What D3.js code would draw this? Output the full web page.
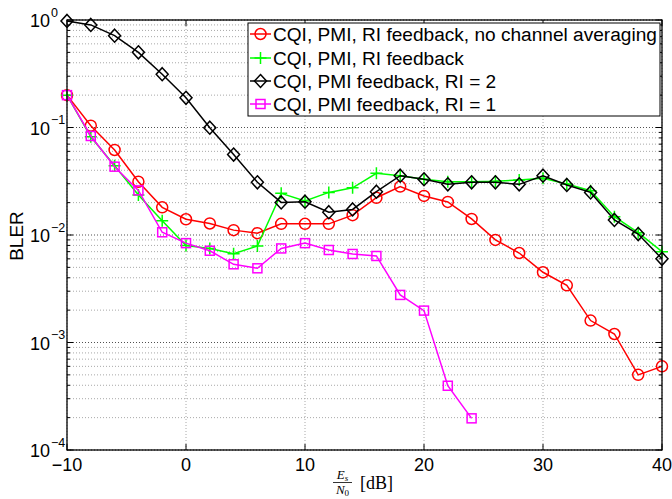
<!DOCTYPE html>
<html><head><meta charset="utf-8">
<script src="https://cdn.jsdelivr.net/npm/d3@7"></script>
<style>body{margin:0;background:#fff}svg{display:block}</style>
</head><body>
<svg id="c" width="672" height="499"></svg>
<script>
const xValues = [-10,-8,-6,-4,-2,0,2,4,6,8,10,12,14,16,18,20,22,24,26,28,30,32,34,36,38,40];
const redVals = [0.2,0.104,0.0618,0.0313,0.0181,0.014,0.0128,0.0111,0.0104,0.0127,0.0127,0.0127,0.0153,0.0222,0.0282,0.0231,0.0203,0.0141,0.009,0.0068,0.0045,0.0034,0.0016,0.0012,0.0005,0.0006];
const greenVals = [0.2,0.082,0.044,0.0236,0.0136,0.008,0.0075,0.0067,0.0079,0.0244,0.0207,0.0249,0.0275,0.0375,0.0356,0.033,0.0313,0.0313,0.0316,0.0325,0.0337,0.0298,0.0258,0.0148,0.0105,0.007];
const blackVals = [0.98,0.90,0.715,0.5,0.313,0.189,0.0996,0.056,0.0309,0.0201,0.0204,0.0163,0.0173,0.0253,0.0356,0.033,0.0296,0.0309,0.0309,0.0296,0.0356,0.0292,0.0249,0.0138,0.0102,0.006];
const magentaVals = [0.2,0.0834,0.0432,0.026,0.0106,0.0084,0.00714,0.00534,0.0049,0.0075,0.0084,0.00725,0.00666,0.00638,0.00277,0.00198,0.000396,0.000197];
const seriesNames = ["CQI, PMI, RI feedback, no channel averaging","CQI, PMI, RI feedback","CQI, PMI feedback, RI = 2","CQI, PMI feedback, RI = 1"];
const xTicks = [-10,0,10,20,30,40];
const xTickLabels = ["\u221210","0","10","20","30","40"];
const yTickExps = [0,-1,-2,-3,-4];

const series = [
  {name: seriesNames[0], vals: redVals, color: "#ff0000", marker: "circle"},
  {name: seriesNames[1], vals: greenVals, color: "#00ff00", marker: "plus"},
  {name: seriesNames[2], vals: blackVals, color: "#000000", marker: "diamond"},
  {name: seriesNames[3], vals: magentaVals, color: "#ff00ff", marker: "square"}
];

const svg = d3.select("#c");
const L = 67, R = 662, T = 20, B = 450;
const x = d3.scaleLinear().domain([-10,40]).range([L,R]);
const y = d3.scaleLog().domain([1e-4,1]).range([B,T]);
const font = "'Liberation Sans', Arial, Helvetica, sans-serif";

svg.append("rect").attr("x",L).attr("y",T).attr("width",R-L).attr("height",B-T).attr("fill","#fff");

// grid
const g = svg.append("g");
const minorY = [];
for (let e=-4;e<0;e++) for (let m=2;m<=9;m++) minorY.push(m*Math.pow(10,e));
g.selectAll(".gmy").data(minorY).join("line")
  .attr("x1",L).attr("x2",R).attr("y1",d=>y(d)).attr("y2",d=>y(d))
  .attr("stroke","#a8a8a8").attr("stroke-width",1).attr("stroke-dasharray","1,2");
g.selectAll(".gMy").data(yTickExps.map(e=>Math.pow(10,e))).join("line")
  .attr("x1",L).attr("x2",R).attr("y1",d=>y(d)).attr("y2",d=>y(d))
  .attr("stroke","#505050").attr("stroke-width",1).attr("stroke-dasharray","1,2");
g.selectAll(".gx").data(xTicks).join("line")
  .attr("x1",d=>x(d)).attr("x2",d=>x(d)).attr("y1",T).attr("y2",B)
  .attr("stroke","#a8a8a8").attr("stroke-width",1).attr("stroke-dasharray","1,2");

// ticks (inward)
const tk = svg.append("g").attr("stroke","#000").attr("stroke-width",1);
xTicks.forEach(v=>{
  tk.append("line").attr("x1",x(v)).attr("x2",x(v)).attr("y1",B).attr("y2",B-6);
  tk.append("line").attr("x1",x(v)).attr("x2",x(v)).attr("y1",T).attr("y2",T+6);
});
yTickExps.forEach(e=>{
  const v=Math.pow(10,e);
  tk.append("line").attr("x1",L).attr("x2",L+6).attr("y1",y(v)).attr("y2",y(v));
  tk.append("line").attr("x1",R).attr("x2",R-6).attr("y1",y(v)).attr("y2",y(v));
});
minorY.forEach(v=>{
  tk.append("line").attr("x1",L).attr("x2",L+3).attr("y1",y(v)).attr("y2",y(v));
  tk.append("line").attr("x1",R).attr("x2",R-3).attr("y1",y(v)).attr("y2",y(v));
});

// series
function drawMarker(sel, type, cx, cy, color){
  if (type==="circle") sel.append("circle").attr("cx",cx).attr("cy",cy).attr("r",5.5).attr("fill","none").attr("stroke",color).attr("stroke-width",1.5);
  else if (type==="square") sel.append("rect").attr("x",cx-4.5).attr("y",cy-4.5).attr("width",9).attr("height",9).attr("fill","none").attr("stroke",color).attr("stroke-width",1.5);
  else if (type==="diamond") sel.append("path").attr("d",`M${cx},${cy-6.5}L${cx+6},${cy}L${cx},${cy+6.5}L${cx-6},${cy}Z`).attr("fill","none").attr("stroke",color).attr("stroke-width",1.5);
  else if (type==="plus") sel.append("path").attr("d",`M${cx-6},${cy}H${cx+6}M${cx},${cy-6}V${cy+6}`).attr("fill","none").attr("stroke",color).attr("stroke-width",1.5);
}
const line = d3.line().x(d=>x(d[0])).y(d=>y(d[1]));
series.forEach(s=>{
  const pts = s.vals.map((v,i)=>[xValues[i],v]);
  const sg = svg.append("g");
  sg.append("path").attr("d",line(pts)).attr("fill","none").attr("stroke",s.color).attr("stroke-width",1.5);
  pts.forEach(p=>drawMarker(sg,s.marker,x(p[0]),y(p[1]),s.color));
});

// frame
svg.append("rect").attr("x",L).attr("y",T).attr("width",R-L).attr("height",B-T).attr("fill","none").attr("stroke","#000").attr("stroke-width",1.3);

// tick labels
svg.append("g").selectAll("text").data(xTicks).join("text")
  .attr("x",(d)=>x(d)).attr("y",471).attr("text-anchor","middle")
  .attr("font-family",font).attr("font-size",18)
  .text((d,i)=>xTickLabels[i]);
yTickExps.forEach(e=>{
  svg.append("text").attr("x",50).attr("y",y(Math.pow(10,e))+7)
    .attr("font-family",font).attr("font-size",18).attr("text-anchor","end").text("10");
  svg.append("text").attr("x",51).attr("y",y(Math.pow(10,e))-3.5)
    .attr("font-family",font).attr("font-size",12.5).attr("text-anchor","start")
    .text(e===0?"0":"\u2212"+Math.abs(e));
});

// y label
svg.append("text").attr("transform","translate(23,236) rotate(-90)")
  .attr("text-anchor","middle").attr("font-family",font).attr("font-size",19).text("BLER");

// x label (fraction)
const serif = "'Liberation Serif', 'Times New Roman', serif";
const xl = svg.append("g");
const num = xl.append("text").attr("x",342.5).attr("y",479).attr("text-anchor","middle").attr("font-family",serif).attr("font-size",13);
num.append("tspan").attr("font-style","italic").text("E");
num.append("tspan").attr("font-style","italic").attr("font-size",9).attr("dy",2).text("s");
xl.append("line").attr("x1",333).attr("x2",352).attr("y1",482.5).attr("y2",482.5).attr("stroke","#000").attr("stroke-width",0.8);
const den = xl.append("text").attr("x",342.5).attr("y",494).attr("text-anchor","middle").attr("font-family",serif).attr("font-size",13);
den.append("tspan").attr("font-style","italic").text("N");
den.append("tspan").attr("font-size",9).attr("dy",2).text("0");
xl.append("text").attr("x",360).attr("y",489).attr("font-family",serif).attr("font-size",18).text("[dB]");

// legend
const lg = svg.append("g");
lg.append("rect").attr("x",248).attr("y",23).attr("width",412).attr("height",93).attr("fill","#fff").attr("stroke","#000").attr("stroke-width",1);
const rowY = [34,58,81,104];
// size legend font so the longest entry spans ~385px like the reference
const probe = lg.append("text").attr("font-family",font).attr("font-size",18).text(seriesNames[0]);
const legFs = Math.min(20, 18*384/probe.node().getComputedTextLength());
probe.remove();
series.forEach((s,i)=>{
  const cy = rowY[i];
  lg.append("line").attr("x1",250).attr("x2",271).attr("y1",cy).attr("y2",cy).attr("stroke",s.color).attr("stroke-width",1.5);
  drawMarker(lg,s.marker,260.5,cy,s.color);
  lg.append("text").attr("x",273).attr("y",cy+legFs*0.36).attr("font-family",font).attr("font-size",legFs).text(s.name);
});
</script>
</body></html>
